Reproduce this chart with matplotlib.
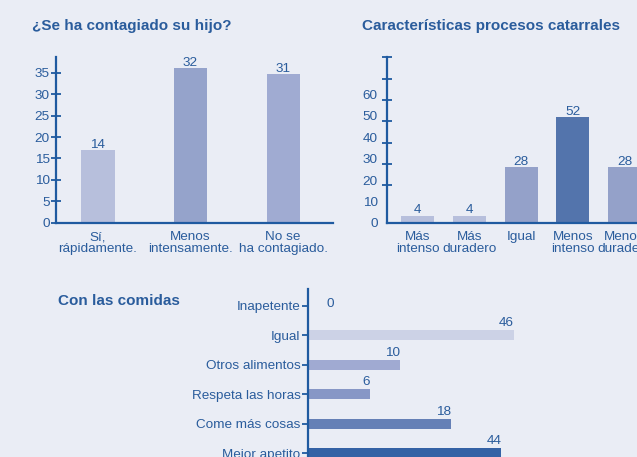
import matplotlib
matplotlib.use("Agg")
import matplotlib.pyplot as plt

plt.rcParams['font.family'] = ['Liberation Sans', 'DejaVu Sans']

BG = '#eaedf5'
TXT = '#2a5c9c'
AX = '#1f5aa0'

# Chart 1
c1_title = '¿Se ha contagiado su hijo?'
c1_cats = ['Sí,\nrápidamente.', 'Menos\nintensamente.', 'No se\nha contagiado.']
c1_heights = [17.0, 36.1, 34.7]
c1_labels = ['14', '32', '31']
c1_colors = ['#b7bfdc', '#95a3cb', '#a0abd2']
c1_yticks = [0, 5, 10, 15, 20, 25, 30, 35]

# Chart 2
c2_title = 'Características procesos catarrales'
c2_cats = ['Más\nintenso', 'Más\nduradero', 'Igual', 'Menos\nintenso', 'Menos\nduradero']
c2_heights = [3.3, 3.3, 26.0, 49.4, 26.0]
c2_labels = ['4', '4', '28', '52', '28']
c2_colors = ['#b7bfdc', '#b7bfdc', '#94a1c9', '#5374ac', '#94a1c9']
c2_yticklabels = [0, 10, 20, 30, 40, 50, 60]
c2_tickmarks = [17.5, 27.5, 37.5, 47.5, 57.5, 67.5, 77.5]

# Chart 3
c3_title = 'Con las comidas'
c3_cats = ['Inapetente', 'Igual', 'Otros alimentos', 'Respeta las horas',
           'Come más cosas', 'Mejor apetito']
c3_lengths = [0, 46, 20.5, 13.8, 31.9, 43.2]
c3_labels = ['0', '46', '10', '6', '18', '44']
c3_colors = ['#ccd2e6', '#ccd2e6', '#a0aad2', '#8797c6', '#6580b6', '#3462a5']

W, H = 637, 457
fig = plt.figure(figsize=(W / 100, H / 100), dpi=100)
fig.patch.set_facecolor(BG)


def px_axes(x0, y0, x1, y1):
    return fig.add_axes([x0 / W, 1 - y1 / H, (x1 - x0) / W, (y1 - y0) / H])


def style(ax):
    ax.set_facecolor('none')
    for s in ['top', 'right']:
        ax.spines[s].set_visible(False)
    for s in ['left', 'bottom']:
        ax.spines[s].set_color(AX)
        ax.spines[s].set_linewidth(1.6)


FS = 9.7

# ---- Chart 1
ax1 = px_axes(56, 57.3, 333, 222.7)
style(ax1)
x1 = list(range(len(c1_cats)))
ax1.bar(x1, c1_heights, width=0.357, color=c1_colors)
for xi, h, lab in zip(x1, c1_heights, c1_labels):
    ax1.annotate(lab, (xi, h), xytext=(0, -0.5), textcoords='offset points',
                 ha='center', va='bottom', color=TXT, fontsize=FS)
ax1.set_xlim(-0.454, 2.54)
ax1.set_ylim(0, 38.6)
ax1.set_yticks(c1_yticks)
ax1.set_yticklabels([str(v) for v in c1_yticks])
ax1.tick_params(axis='y', direction='inout', length=7, width=1.3, colors=AX,
                labelcolor=TXT, labelsize=FS, pad=1)
ax1.set_xticks(x1)
ax1.set_xticklabels(c1_cats, linespacing=0.92)
ax1.tick_params(axis='x', length=0, labelcolor=TXT, labelsize=FS, pad=6.2)
fig.text(32 / W, 1 - 26 / H, c1_title, color=TXT, fontsize=11, fontweight='bold',
         ha='left', va='center')

# ---- Chart 2
ax2 = px_axes(386.7, 57.3, 700, 222.7)
style(ax2)
x2 = list(range(len(c2_cats)))
ax2.bar(x2, c2_heights, width=0.64, color=c2_colors)
for xi, h, lab in zip(x2, c2_heights, c2_labels):
    ax2.annotate(lab, (xi, h), xytext=(0, -0.5), textcoords='offset points',
                 ha='center', va='bottom', color=TXT, fontsize=FS)
ax2.set_xlim(-0.598, 5.46)
ax2.set_ylim(0, 77.4)
ax2.set_yticks(c2_yticklabels)
ax2.set_yticklabels([str(v) for v in c2_yticklabels])
ax2.tick_params(axis='y', which='major', length=0, labelcolor=TXT, labelsize=FS, pad=6.5)
ax2.set_yticks(c2_tickmarks, minor=True)
ax2.tick_params(axis='y', which='minor', direction='inout', length=7, width=1.3,
                colors=AX)
ax2.set_xticks(x2)
ax2.set_xticklabels(c2_cats, linespacing=0.92)
ax2.tick_params(axis='x', length=0, labelcolor=TXT, labelsize=FS, pad=6.2)
fig.text(362.5 / W, 1 - 26 / H, c2_title, color=TXT, fontsize=11, fontweight='bold',
         ha='left', va='center')

# ---- Chart 3
ax3 = px_axes(308.3, 289, 700, 470)
style(ax3)
ax3.spines['bottom'].set_visible(False)
y3 = list(range(len(c3_cats)))
ax3.barh(y3, c3_lengths, height=0.34, color=c3_colors)
for yi, l, lab in zip(y3, c3_lengths, c3_labels):
    if l > 0:
        ax3.annotate(lab, (l, yi - 0.17), xytext=(0, 0.5), textcoords='offset points',
                     ha='right', va='bottom', color=TXT, fontsize=FS)
    else:
        ax3.annotate(lab, (0, yi), xytext=(13, 1.5), textcoords='offset points',
                     ha='left', va='center', color=TXT, fontsize=FS)
ax3.set_ylim(5.57, -0.566)
ax3.set_xlim(0, 87.6)
ax3.set_xticks([])
ax3.set_yticks(y3)
ax3.set_yticklabels(c3_cats)
ax3.tick_params(axis='y', direction='out', length=4.5, width=1.3, colors=AX,
                labelcolor=TXT, labelsize=FS, pad=1.2)
fig.text(58 / W, 1 - 301 / H, c3_title, color=TXT, fontsize=11, fontweight='bold',
         ha='left', va='center')

fig.savefig('out.png', dpi=100, facecolor=BG)
